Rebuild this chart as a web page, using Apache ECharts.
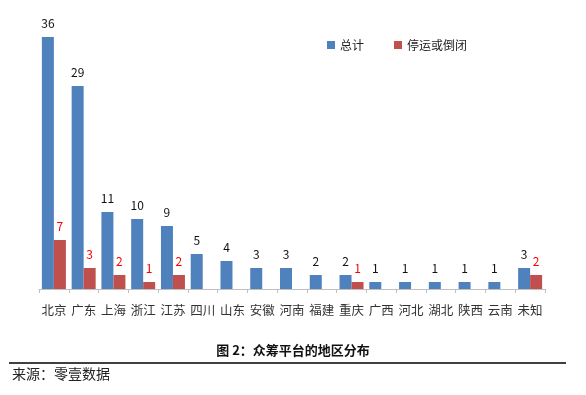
<!DOCTYPE html>
<html><head><meta charset="utf-8">
<script src="https://cdn.jsdelivr.net/npm/echarts@6/dist/echarts.min.js"></script>
<style>html,body{margin:0;padding:0;background:#fff}#c{width:586px;height:395px}</style>
</head><body><div id="c"></div>
<script>
var categories = ['北京','广东','上海','浙江','江苏','四川','山东','安徽','河南','福建','重庆','广西','河北','湖北','陕西','云南','未知'];
var totalValues = [36,29,11,10,9,5,4,3,3,2,2,1,1,1,1,1,3];
var closedValues = [7,3,2,1,2,'-','-','-','-','-',1,'-','-','-','-','-',2];
var seriesNames = ['总计','停运或倒闭'];
var chartTitle = '图 2：众筹平台的地区分布';
var sourceText = '来源：零壹数据';

var font = '"Noto Sans CJK SC", "Noto Sans", sans-serif';
var chart = echarts.init(document.getElementById('c'));
chart.setOption({
  animation: false,
  textStyle: {fontFamily: font},
  legend: {
    data: seriesNames, left: 322, top: 34, itemWidth: 8, itemHeight: 8, itemGap: 30,
    icon: 'rect', textStyle: {fontSize: 12, color: '#222', fontFamily: font}
  },
  grid: {left: 39, right: 41, top: 37, bottom: 106},
  xAxis: {
    type: 'category', data: categories,
    axisLine: {lineStyle: {color: '#bfbfbf'}},
    axisTick: {show: true, length: 4, lineStyle: {color: '#bfbfbf'}},
    axisLabel: {color: '#333', fontSize: 12.5, margin: 15, interval: 0, fontFamily: font}
  },
  yAxis: {type: 'value', min: 0, max: 36, show: false, splitLine: {show: false}},
  series: [
    {name: seriesNames[0], type: 'bar', data: totalValues, barWidth: 12, barGap: '0%',
     itemStyle: {color: '#4f81bd'},
     label: {show: true, position: 'top', color: '#111', fontSize: 12, distance: 8, fontFamily: font}},
    {name: seriesNames[1], type: 'bar', data: closedValues, barWidth: 12,
     itemStyle: {color: '#c0504d'},
     label: {show: true, position: 'top', color: '#ff0000', fontSize: 12, distance: 8, fontFamily: font}}
  ],
  graphic: [
    {type: 'text', left: 'center', top: 344, style: {text: chartTitle, font: 'bold 13px ' + font, fill: '#111'}},
    {type: 'line', shape: {x1: 9, y1: 363, x2: 566, y2: 363}, style: {stroke: '#000', lineWidth: 1.5}},
    {type: 'text', left: 12, top: 367, style: {text: sourceText, font: '14px ' + font, fill: '#222'}}
  ]
});
</script></body></html>
